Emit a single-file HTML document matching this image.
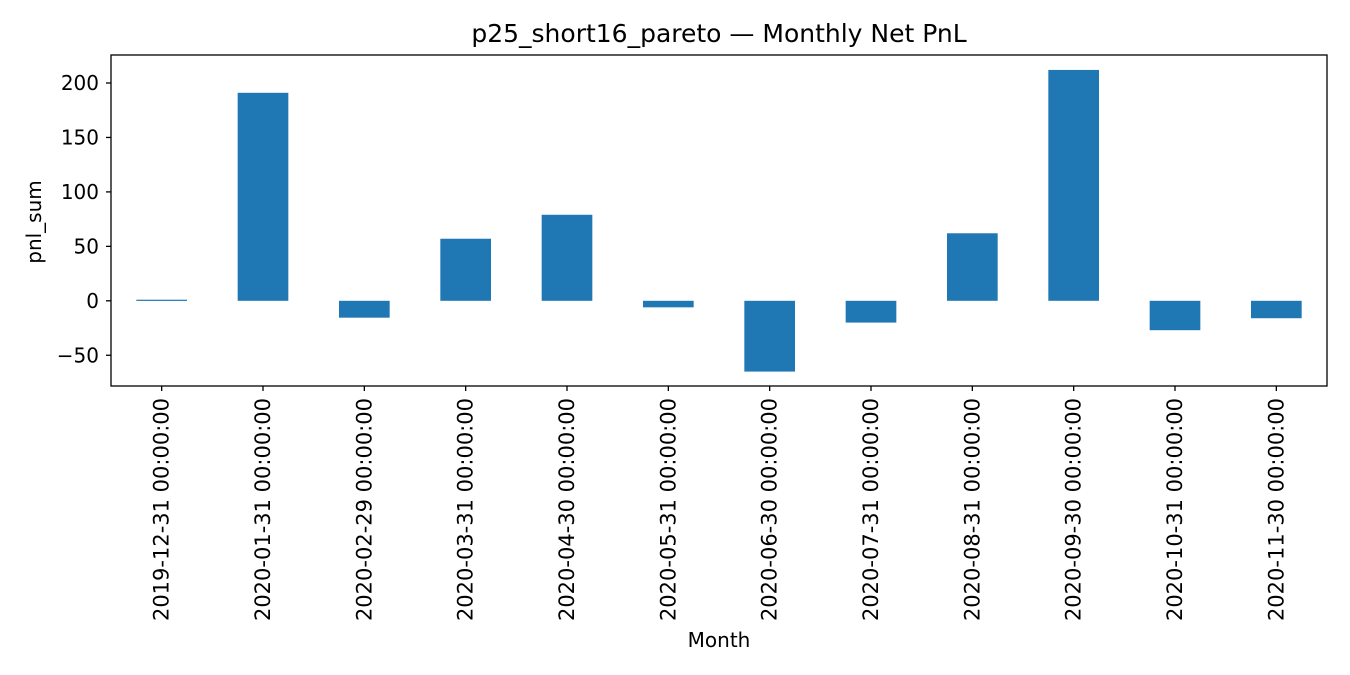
<!DOCTYPE html>
<html><head><meta charset="utf-8"><style>
body{margin:0;background:#fff;}
svg{display:block;font-family:"DejaVu Sans","Liberation Sans",sans-serif;}
</style></head><body>
<svg id="chart" width="1350" height="675" xmlns="http://www.w3.org/2000/svg">
<rect width="1350" height="675" fill="#fff"/>
<text x="719" y="42" text-anchor="middle" font-size="25" fill="#000">p25_short16_pareto — Monthly Net PnL</text>
<g id="bars"></g>
<g id="yticks"></g>
<g id="xticks"></g>
<rect x="111" y="55" width="1216" height="331" fill="none" stroke="#000" stroke-width="1.3"/>
<text x="41" y="222" text-anchor="middle" font-size="20" transform="rotate(-90 41 222)">pnl_sum</text>
<text x="719" y="647" text-anchor="middle" font-size="20">Month</text>
</svg>
<script>
const categories = ["2019-12-31 00:00:00","2020-01-31 00:00:00","2020-02-29 00:00:00","2020-03-31 00:00:00","2020-04-30 00:00:00","2020-05-31 00:00:00","2020-06-30 00:00:00","2020-07-31 00:00:00","2020-08-31 00:00:00","2020-09-30 00:00:00","2020-10-31 00:00:00","2020-11-30 00:00:00"];
const pnlValues = [1, 191, -15.5, 57, 79, -6, -65, -20, 62, 212, -27, -16];
const yTickValues = [-50, 0, 50, 100, 150, 200];
const yTickLabels = ["−50", "0", "50", "100", "150", "200"];

const NS = "http://www.w3.org/2000/svg";
const plotLeft = 111, plotRight = 1327, plotBottom = 386;
const step = (plotRight - plotLeft) / categories.length;
function xScale(i) { return plotLeft + step * (i + 0.5); }
function yScale(v) { return 300.8 - v * (217.8 / 200); }

const bars = document.getElementById('bars');
pnlValues.forEach((v, i) => {
  const r = document.createElementNS(NS, 'rect');
  const y0 = yScale(0), y1 = yScale(v);
  r.setAttribute('x', xScale(i) - step / 4);
  r.setAttribute('width', step / 2);
  r.setAttribute('y', Math.min(y0, y1));
  r.setAttribute('height', Math.max(Math.abs(y1 - y0), 1.2));
  r.setAttribute('fill', '#1f77b4');
  
  
  bars.appendChild(r);
});

const yt = document.getElementById('yticks');
yTickValues.forEach((v, i) => {
  const y = yScale(v);
  const l = document.createElementNS(NS, 'line');
  l.setAttribute('x1', plotLeft - 5); l.setAttribute('x2', plotLeft);
  l.setAttribute('y1', y); l.setAttribute('y2', y);
  l.setAttribute('stroke', '#000'); l.setAttribute('stroke-width', '1.3');
  
  
  yt.appendChild(l);
  const t = document.createElementNS(NS, 'text');
  t.setAttribute('x', plotLeft - 12); t.setAttribute('y', y + 7);
  t.setAttribute('text-anchor', 'end'); t.setAttribute('font-size', '20');
  t.textContent = yTickLabels[i];
  
  
  yt.appendChild(t);
});

const xt = document.getElementById('xticks');
categories.forEach((c, i) => {
  const x = xScale(i);
  const l = document.createElementNS(NS, 'line');
  l.setAttribute('x1', x); l.setAttribute('x2', x);
  l.setAttribute('y1', plotBottom); l.setAttribute('y2', plotBottom + 5);
  l.setAttribute('stroke', '#000'); l.setAttribute('stroke-width', '1.3');
  
  
  xt.appendChild(l);
  const t = document.createElementNS(NS, 'text');
  t.setAttribute('x', x + 7); t.setAttribute('y', plotBottom + 12);
  t.setAttribute('text-anchor', 'end'); t.setAttribute('font-size', '21');
  t.setAttribute('transform', 'rotate(-90 ' + (x + 7) + ' ' + (plotBottom + 12) + ')');
  t.textContent = c;
  
  
  xt.appendChild(t);
});
</script>
</body></html>
